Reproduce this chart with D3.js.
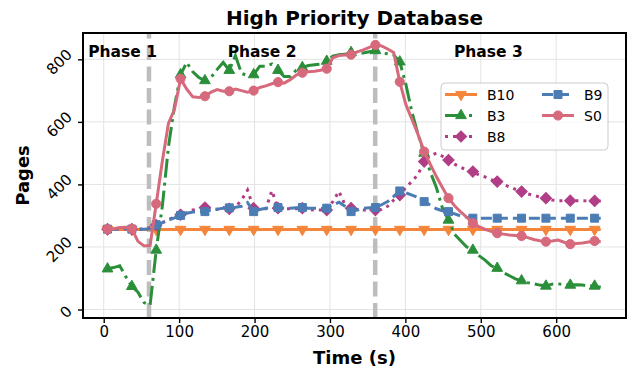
<!DOCTYPE html>
<html>
<head>
<meta charset="utf-8">
<script src="https://cdn.jsdelivr.net/npm/d3@7"></script>
<style>
  body { margin: 0; background: #fff; }
  #svg-container { width: 632px; height: 373px; }
  svg { display: block; font-family: "DejaVu Sans", sans-serif; }
</style>
</head>
<body>
<div id="svg-container"></div>
<script>
// sample times (s)
var times = [5.0,13.1,21.2,29.2,37.3,45.4,53.5,61.5,69.6,77.7,
  85.8,93.8,101.9,110.0,118.1,126.1,134.2,142.3,150.4,158.4,
  166.5,174.6,182.7,190.7,198.8,206.9,215.0,223.0,231.1,239.2,
  247.3,255.3,263.4,271.5,279.6,287.6,295.7,303.8,311.9,319.9,
  328.0,336.1,344.2,352.2,360.3,368.4,376.5,384.5,392.6,400.7,
  408.8,416.8,424.9,433.0,441.1,449.1,457.2,465.3,473.4,481.4,
  489.5,497.6,505.7,513.7,521.8,529.9,538.0,546.0,554.1,562.2,
  570.3,578.3,586.4,594.5,602.6,610.6,618.7,626.8,634.9,642.9,
  651.0,659.1];

var b10 = [256,256,256,256,256,256,256,256,256,256,
  256,256,256,256,256,256,256,256,256,256,
  256,256,256,256,256,256,256,256,256,256,
  256,256,256,256,256,256,256,256,256,256,
  256,256,256,256,256,256,256,256,256,256,
  256,256,256,256,256,256,256,256,256,256,
  256,256,256,256,256,256,256,256,256,256,
  256,256,256,256,256,256,256,256,256,256,
  256,256];

var b3 = [130,134,140,105,74,55,22,14,190,330,
  520,650,751,790,760,742,732,742,768,790,
  765,812,755,748,751,778,778,785,765,745,
  745,765,774,780,783,785,794,810,815,816,
  822,822,820,824,828,820,818,814,792,720,
  630,560,500,440,390,325,286,240,220,200,
  190,172,158,140,132,118,108,98,92,86,
  82,78,75,81,82,80,78,79,78,76,
  75,71];

var b8 = [257,257,258,258,257,257,258,262,270,278,
  287,296,303,310,318,322,326,322,320,326,
  322,328,350,382,324,318,322,380,324,322,
  322,322,324,320,318,318,318,345,378,335,
  324,320,318,318,318,320,330,350,366,390,
  410,432,473,492,500,490,478,465,455,446,
  441,430,424,415,409,400,392,384,377,370,
  365,360,356,350,348,348,348,348,348,347,
  347,347];

var b9 = [257,257,258,258,257,256,257,258,271,278,
  286,293,301,308,312,312,313,318,321,324,
  325,327,330,342,313,320,324,325,326,324,
  324,325,326,324,324,323,324,334,343,330,
  313,318,324,325,326,335,345,362,379,373,
  366,358,345,334,322,316,313,306,299,295,
  292,292,292,292,292,292,292,292,292,292,
  292,292,292,292,292,292,292,292,292,292,
  292,292];

var s0 = [257,258,262,263,258,218,203,205,338,474,
  595,640,738,705,680,678,682,695,703,698,
  698,705,700,695,700,710,715,722,727,724,
  735,750,757,760,762,765,770,805,812,814,
  815,824,830,838,846,843,833,822,728,655,
  608,560,505,465,425,390,356,332,312,295,
  276,265,256,250,244,241,238,237,235,230,
  224,220,217,219,222,215,209,211,213,216,
  219,217];

var seriesNames = ["B10", "B3", "B8", "B9", "S0"];
var phaseLines = [60, 360];
var phaseNames = ["Phase 1", "Phase 2", "Phase 3"];
var phaseCenters = [25, 210, 510];
var xTicks = [0, 100, 200, 300, 400, 500, 600];
var yTicks = [0, 200, 400, 600, 800];

var width = 632, height = 373;
var margin = { top: 33, right: 6, bottom: 55, left: 83 };
var w = width - margin.left - margin.right;
var h = height - margin.top - margin.bottom;

var styles = {
  B10: { values: b10, color: "#f5853a", dash: null, symbol: d3.symbolTriangle, rot: 180, size: 50 },
  B3:  { values: b3,  color: "#2b8f3a", dash: "19,5,3,5", symbol: d3.symbolTriangle, rot: 0, size: 50 },
  B8:  { values: b8,  color: "#b03d86", dash: "3,5", symbol: d3.symbolSquare, rot: 45, size: 64 },
  B9:  { values: b9,  color: "#4b7db4", dash: "11,5", symbol: d3.symbolSquare, rot: 0, size: 64 },
  S0:  { values: s0,  color: "#d66a7c", dash: null, symbol: d3.symbolCircle, rot: 0, size: 66 }
};

var svg = d3.select("#svg-container")
            .append("svg")
            .attr("width", width)
            .attr("height", height);

var g = svg.append("g")
           .attr("transform", "translate(" + margin.left + "," + margin.top + ")");

var scaleX = d3.scaleLinear().domain([-27.5, 692.6]).range([0, w]);
var scaleY = d3.scaleLinear().domain([-27.2, 884.2]).range([h, 0]);

g.append("clipPath").attr("id", "clip")
  .append("rect").attr("width", w).attr("height", h);

// grid
g.selectAll(".gx").data(xTicks).enter().append("line")
  .attr("x1", function(d) { return scaleX(d); })
  .attr("x2", function(d) { return scaleX(d); })
  .attr("y1", 0).attr("y2", h)
  .attr("stroke", "#e3e3e3").attr("stroke-width", 1);

g.selectAll(".gy").data(yTicks).enter().append("line")
  .attr("y1", function(d) { return scaleY(d); })
  .attr("y2", function(d) { return scaleY(d); })
  .attr("x1", 0).attr("x2", w)
  .attr("stroke", "#e3e3e3").attr("stroke-width", 1);

// phase separators
g.selectAll(".phase").data(phaseLines).enter().append("line")
  .attr("x1", function(d) { return scaleX(d); })
  .attr("x2", function(d) { return scaleX(d); })
  .attr("y1", h).attr("y2", 0)
  .attr("stroke", "#bdbdbd").attr("stroke-width", 4.5)
  .attr("stroke-dasharray", "15,6.5");

var plot = g.append("g").attr("clip-path", "url(#clip)");

var line = d3.line()
  .x(function(d, i) { return scaleX(times[i]); })
  .y(function(d) { return scaleY(d); });

function symbolPath(s) {
  return d3.symbol().type(s.symbol).size(s.size)();
}

function drawSeries(name) {
  var s = styles[name];
  plot.append("path")
    .datum(s.values)
    .attr("fill", "none")
    .attr("stroke", s.color)
    .attr("stroke-width", 3)
    .attr("stroke-dasharray", s.dash)
    .attr("d", line);

  var marks = s.values.map(function(v, i) { return { t: times[i], v: v, i: i }; })
                      .filter(function(d) { return d.i % 4 === 0; });

  plot.selectAll(".m" + name).data(marks).enter().append("path")
    .attr("d", symbolPath(s))
    .attr("transform", function(d) {
      return "translate(" + scaleX(d.t) + "," + scaleY(d.v) + ") rotate(" + s.rot + ")";
    })
    .attr("fill", s.color)
    .attr("stroke", s.color)
    .attr("stroke-width", 1);
}

seriesNames.forEach(drawSeries);

// phase labels
g.selectAll(".plabel").data(phaseNames).enter().append("text")
  .attr("x", function(d, i) { return scaleX(phaseCenters[i]); })
  .attr("y", 23.5)
  .attr("text-anchor", "middle")
  .attr("font-weight", "bold")
  .attr("font-size", "15.5px")
  .text(function(d) { return d; });

// axes
var xAxis = g.append("g")
  .attr("transform", "translate(0," + h + ")")
  .call(d3.axisBottom(scaleX).tickValues(xTicks).tickSize(5).tickPadding(3));
xAxis.select(".domain").remove();
xAxis.selectAll("line").attr("stroke", "#000").attr("stroke-width", 1.4);
xAxis.selectAll("text").attr("font-size", "15px").attr("font-family", "DejaVu Sans").attr("fill", "#000");

var yAxis = g.append("g")
  .call(d3.axisLeft(scaleY).tickValues(yTicks).tickSize(5));
yAxis.select(".domain").remove();
yAxis.selectAll("line").attr("stroke", "#000").attr("stroke-width", 1.4);
// rotated labels, box right edge just left of the tick (like ha=right)
yAxis.selectAll("text")
  .attr("font-size", "15px").attr("font-family", "DejaVu Sans").attr("fill", "#000")
  .attr("text-anchor", "middle")
  .attr("dy", "0.35em")
  .each(function() {
    var tw = this.getComputedTextLength();
    var cx = -9 - (tw + 13) / (2 * Math.SQRT2);
    d3.select(this).attr("x", cx).attr("y", 2)
      .attr("transform", "rotate(-45 " + cx + " 2)");
  });

// frame
g.append("rect")
  .attr("width", w).attr("height", h)
  .attr("fill", "none").attr("stroke", "#000").attr("stroke-width", 2);

// legend
var legend = svg.append("g").attr("transform", "translate(441,83)");
legend.append("rect")
  .attr("width", 167).attr("height", 67).attr("rx", 4)
  .attr("fill", "#fff").attr("fill-opacity", 0.8)
  .attr("stroke", "#cccccc").attr("stroke-width", 1);

var legendPos = [[4, 11.5], [4, 32.5], [4, 53.5], [101, 11.5], [101, 32.5]];

seriesNames.forEach(function(name, i) {
  var s = styles[name];
  var p = legendPos[i];
  var item = legend.append("g").attr("transform", "translate(" + p[0] + "," + p[1] + ")");
  item.append("line")
    .attr("x1", 0).attr("x2", 32).attr("y1", 0).attr("y2", 0)
    .attr("stroke", s.color).attr("stroke-width", 3)
    .attr("stroke-dasharray", s.dash);
  item.append("path")
    .attr("d", symbolPath(s))
    .attr("transform", "translate(16,0) rotate(" + s.rot + ")")
    .attr("fill", s.color).attr("stroke", s.color).attr("stroke-width", 1);
  item.append("text")
    .attr("x", 42).attr("y", 0).attr("dy", "0.36em")
    .attr("font-size", "14px")
    .text(name);
});

// titles
svg.append("text")
  .attr("x", margin.left + w / 2).attr("y", 25)
  .attr("text-anchor", "middle").attr("font-weight", "bold").attr("font-size", "20px")
  .text("High Priority Database");

svg.append("text")
  .attr("x", margin.left + w / 2).attr("y", 364)
  .attr("text-anchor", "middle").attr("font-weight", "bold").attr("font-size", "18px")
  .text("Time (s)");

svg.append("text")
  .attr("transform", "translate(29," + (margin.top + h / 2) + ") rotate(-90)")
  .attr("text-anchor", "middle").attr("font-weight", "bold").attr("font-size", "18px")
  .text("Pages");
</script>
</body>
</html>
